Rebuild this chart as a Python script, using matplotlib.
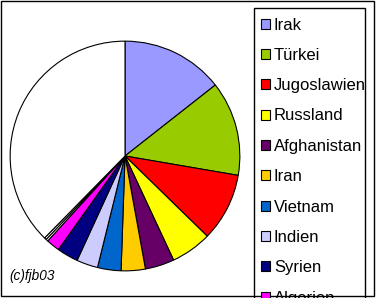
import matplotlib.pyplot as plt
from matplotlib.patches import Rectangle, Patch

plt.rcParams['font.family'] = ['Liberation Sans', 'DejaVu Sans']

# data (share in percent)
countries = ['Irak', 'Türkei', 'Jugoslawien', 'Russland', 'Afghanistan',
             'Iran', 'Vietnam', 'Indien', 'Syrien', 'Algerien']
shares = [14.4, 13.3, 9.6, 5.75, 4.1, 3.4, 3.3, 3.0, 3.0, 1.9]
colors = ['#9999FF', '#99CC00', '#FF0000', '#FFFF00', '#660066',
          '#FFCC00', '#0066CC', '#CCCCFF', '#000080', '#FF00FF']
# small unnamed slices and the remainder (white)
extra_shares = [0.3, 0.3]
rest = 100 - sum(shares) - sum(extra_shares)

W, H = 377, 298
fig = plt.figure(figsize=(W / 100, H / 100), dpi=100)

# pie: centre (125,156) px, radius 116 px
cx, cy, r = 125, 156, 116
ax = fig.add_axes([(cx - r) / W, (H - cy - r) / H, 2 * r / W, 2 * r / H])
vals = shares + extra_shares + [rest]
cols = colors + ['white'] * (len(extra_shares) + 1)
ax.pie(vals, colors=cols, startangle=90, counterclock=False,
       wedgeprops=dict(edgecolor='black', linewidth=0.8))
ax.set_xlim(-1.01, 1.01)
ax.set_ylim(-1.01, 1.01)
ax.set_aspect('equal')
ax.axis('off')

# legend box (runs off the bottom of the chart)
fig.add_artist(Rectangle((253.5 / W, -20 / H), 111 / W, (H - 7.5 + 20) / H,
                         transform=fig.transFigure, fill=False,
                         edgecolor='black', linewidth=1))
handles = [Patch(facecolor=c, edgecolor='black', linewidth=0.8) for c in colors]
fig.legend(handles, countries, loc='upper left',
           bbox_to_anchor=(253 / W, 1 - 10 / H), borderaxespad=0,
           fontsize=12, frameon=False,
           handlelength=0.55, handleheight=0.55, handletextpad=0.25,
           labelspacing=0.92, borderpad=0.45)

fig.text(9 / W, 1 - 276 / H, '(c)fjb03', fontsize=9.8, style='italic',
         va='center', ha='left')

# outer chart border
fig.add_artist(Rectangle((0.5 / W, 2.5 / H), 373 / W, 295 / H,
                         transform=fig.transFigure, fill=False,
                         edgecolor='black', linewidth=1))

fig.savefig('out.png', dpi=100)
